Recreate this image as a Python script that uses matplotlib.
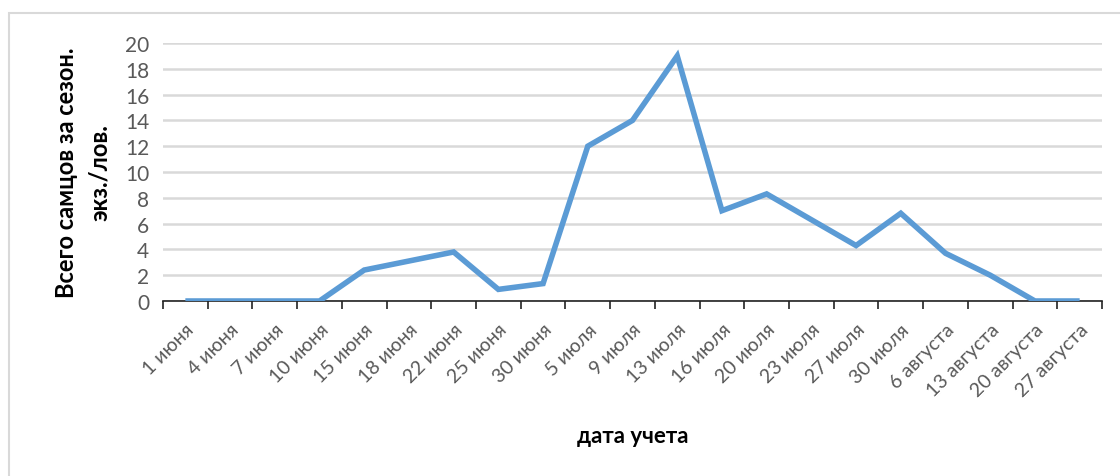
import numpy as np
import matplotlib.pyplot as plt
from matplotlib.patches import Rectangle

plt.rcParams['font.family'] = ['Lato', 'DejaVu Sans']

dates = ['1 июня', '4 июня', '7 июня', '10 июня', '15 июня', '18 июня',
         '22 июня', '25 июня', '30 июня', '5 июля', '9 июля', '13 июля',
         '16 июля', '20 июля', '23 июля', '27 июля', '30 июля', '6 августа',
         '13 августа', '20 августа', '27 августа']
males = [0, 0, 0, 0, 2.4, 3.1, 3.8, 0.9, 1.35, 12, 14, 19,
         7.0, 8.3, 6.3, 4.3, 6.8, 3.7, 2.0, 0, 0]

fig = plt.figure(figsize=(11.2, 4.77), dpi=100)

# outer chart frame
fig.patches.append(Rectangle((9 / 1120, -0.1), 1.2, (477 - 14) / 477 + 0.1,
                             transform=fig.transFigure, fill=False,
                             edgecolor='#d9d9d9', lw=1.5))

ax = fig.add_axes([163 / 1120, (477 - 302) / 477, (1102 - 163) / 1120, 258 / 477])

x = np.arange(len(dates))
ax.plot(x, males, color='#5b9bd5', lw=4, solid_joinstyle='miter',
        solid_capstyle='butt', zorder=3)

ax.set_xlim(-0.5, len(dates) - 0.5)
ax.set_ylim(0, 20)
ax.set_yticks(np.arange(0, 21, 2))
ax.yaxis.grid(True, color='#d9d9d9', lw=1.8)
ax.set_axisbelow(True)

ax.set_xticks(x)
ax.set_xticklabels(dates, rotation=45, ha='right', rotation_mode='anchor',
                   color='#595959', fontsize=14)
ax.set_xticks(np.arange(-0.5, len(dates)), minor=True)
ax.tick_params(axis='x', which='major', length=0, pad=14)
ax.tick_params(axis='x', which='minor', length=6, width=1.2, color='#222222',
               direction='out')
ax.tick_params(axis='y', length=0, labelsize=15, labelcolor='#595959', pad=10)

for side in ['top', 'right', 'left']:
    ax.spines[side].set_visible(False)
ax.spines['bottom'].set_color('#222222')
ax.spines['bottom'].set_linewidth(1.2)

ax.set_ylabel('Всего самцов за сезон.\nэкз./лов.', fontsize=17,
              fontweight='bold', labelpad=10, linespacing=1.5)
fig.text(0.5 * (163 + 1102) / 1120, (477 - 437) / 477, 'дата учета',
         ha='center', va='center', fontsize=16, fontweight='bold')

plt.savefig('out.png', dpi=100)
